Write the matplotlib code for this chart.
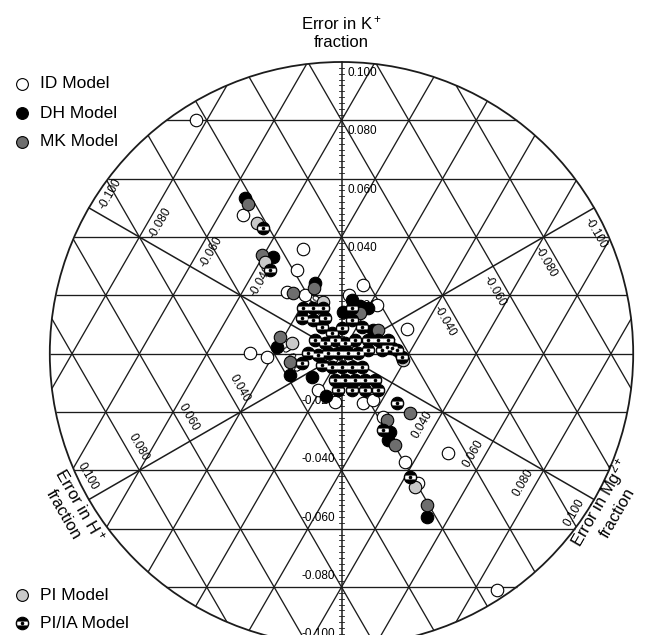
import numpy as np
import matplotlib
matplotlib.use("Agg")
import matplotlib.pyplot as plt
from matplotlib.patches import Circle
from matplotlib.path import Path

plt.rcParams['font.family'] = ['Liberation Sans', 'DejaVu Sans']
plt.rcParams['mathtext.fontset'] = 'custom'
plt.rcParams['mathtext.rm'] = 'Liberation Sans'
plt.rcParams['mathtext.it'] = 'Liberation Sans'

# Prediction errors (model - measured) in equivalent fractions.
# Each point: error in K+ and error in Mg2+; the H+ error closes the sum to zero.
id_dk = [0.0801, 0.0475, 0.0359, 0.0287, 0.0212, 0.0201, 0.0236, 0.0201, 0.0167, 0.0085,
         0.0002, -0.0011, -0.0124, -0.0166, -0.0169, -0.0159, -0.0217, -0.0371, -0.0443,
         -0.0340, -0.0810]
id_dmg = [-0.0833, -0.0530, -0.0293, -0.0275, -0.0268, -0.0209, -0.0054, -0.0079, 0.0022, 0.0152,
          -0.0273, -0.0215, -0.0008, 0.0064, 0.0149, 0.0173, 0.0231, 0.0375, 0.0449,
          0.0486, 0.0867]

dh_dk = [0.0534, 0.0331, 0.0242, 0.0164, 0.0157, 0.0143, 0.0081, 0.0023, -0.0073, -0.0080,
         -0.0296, -0.0560, -0.0268, -0.0145, 0.0184]
dh_dmg = [-0.0554, -0.0369, -0.0200, -0.0027, 0.0001, -0.0067, 0.0053, -0.0203, -0.0116, -0.0048,
          0.0286, 0.0534, 0.0278, 0.0027, -0.0061]

mk_dk = [0.0513, 0.0338, 0.0208, 0.0225, 0.0057, 0.0081, -0.0203, -0.0227, -0.0313, -0.0519,
         0.0140, -0.0028]
mk_dmg = [-0.0535, -0.0405, -0.0248, -0.0195, -0.0212, 0.0067, 0.0305, 0.0249, 0.0315, 0.0513,
          -0.0015, -0.0139]

pi_dk = [0.0448, 0.0314, -0.0022, -0.0457, 0.0037, 0.0177]
pi_dmg = [-0.0475, -0.0384, 0.0194, 0.0446, -0.0165, -0.0144]

pia_dk = [0.0431, 0.0287, 0.0157, 0.0157, 0.0157, 0.0157, 0.0122, 0.0116, 0.0122, 0.0092,
          0.0071, 0.0088, 0.0116, 0.0092, 0.0047, 0.0037, 0.0047, 0.0037, 0.0047, 0.0047,
          0.0047, 0.0047, 0.0002, -0.0004, 0.0002, 0.0002, 0.0002, 0.0002, 0.0013, 0.0013,
          0.0020, -0.0011, -0.0032, -0.0039, -0.0046, -0.0046, -0.0046, -0.0046, -0.0090, -0.0090,
          -0.0090, -0.0090, -0.0090, -0.0124, -0.0124, -0.0124, -0.0124, -0.0169, -0.0262, -0.0423,
          0.0023, 0.0013]
pia_dmg = [-0.0448, -0.0355, -0.0192, -0.0163, -0.0133, -0.0047, -0.0178, -0.0143, -0.0110, -0.0104,
           -0.0063, -0.0043, -0.0027, 0.0015, -0.0102, -0.0067, -0.0042, -0.0008, 0.0017, 0.0056,
           0.0085, 0.0115, -0.0100, -0.0068, -0.0040, -0.0010, 0.0019, 0.0049, 0.0073, 0.0114,
           0.0140, 0.0186, -0.0101, -0.0039, -0.0005, 0.0024, 0.0054, 0.0084, 0.0026, 0.0055,
           0.0085, 0.0115, 0.0144, 0.0052, 0.0093, 0.0132, 0.0170, 0.0250, 0.0254, 0.0414,
           0.0124, 0.0159]

tick_values = [0.02, 0.04, 0.06, 0.08, 0.10, -0.02, -0.04, -0.06, -0.08, -0.10]
model_names = ['ID Model', 'DH Model', 'MK Model', 'PI Model', 'PI/IA Model']


def to_xy(dk, dmg):
    """Place (dK, dMg) on the plane: K axis up, Mg axis at -30 deg, H axis at 210 deg."""
    dk = np.asarray(dk, float)
    dmg = np.asarray(dmg, float)
    return (2 * dmg + dk) / np.sqrt(3), dk


W, H = 652, 635
S = 2917.0            # pixels per unit error
CX, CY = 341.5, 353.7  # centre of the diagram in pixels
R = 0.100
LINE = '#1c1c1c'

fig = plt.figure(figsize=(W / 100, H / 100), dpi=100)
ax = fig.add_axes([0, 0, 1, 1])
ax.set_xlim(-CX / S, (W - CX) / S)
ax.set_ylim(-(H - CY) / S, CY / S)
ax.set_aspect('equal')
ax.axis('off')

# triangular grid clipped to the circle
normals = [np.array([0.0, 1.0]),
           np.array([np.sqrt(3) / 2, -0.5]),
           np.array([-np.sqrt(3) / 2, -0.5])]
for n in normals:
    t = np.array([-n[1], n[0]])
    for j in range(-4, 5):
        c = 0.02 * j
        half = np.sqrt(R ** 2 - c ** 2)
        p0 = c * n
        a, b = p0 - half * t, p0 + half * t
        ax.plot([a[0], b[0]], [a[1], b[1]], color=LINE, lw=0.95, zorder=1,
                solid_capstyle='butt')

# outer circle
ax.add_patch(Circle((0, 0), R, fill=False, ec=LINE, lw=1.3, zorder=2))

# the three error axes (diameters)
for ang in (90, 30, 150):
    d = np.array([np.cos(np.radians(ang)), np.sin(np.radians(ang))])
    ax.plot([-R * d[0], R * d[0]], [-R * d[1], R * d[1]], color=LINE, lw=1.1, zorder=2)

# minor ticks along the K axis
for v in np.arange(-0.098, 0.0981, 0.002):
    ax.plot([-0.0008, 0.0008], [v, v], color=LINE, lw=0.6, zorder=2)

# tick labels along each axis
DELTA = 11 / S
EPS = 6 / S
for ang in (90, 210, 330):
    a = np.array([np.cos(np.radians(ang)), np.sin(np.radians(ang))])
    p = np.array([a[1], -a[0]])
    for v in tick_values:
        s = np.sign(v)
        pos = v * a - s * a * DELTA + s * p * EPS
        d = s * p
        phi = np.degrees(np.arctan2(d[1], d[0]))
        ha = 'left'
        if phi > 90.5 or phi < -90.5:
            phi = phi - 180 if phi > 0 else phi + 180
            ha = 'right'
        ax.text(pos[0], pos[1], f'{v:.3f}', rotation=phi, rotation_mode='anchor',
                ha=ha, va='center', fontsize=8.5, zorder=3)

# axis titles
ax.text(0, (CY - 32) / S, 'Error in K$^+$\nfraction', ha='center', va='center',
        fontsize=12, linespacing=1.2, zorder=3)
rt = 0.1065
ax.text(rt * np.cos(np.radians(210)), rt * np.sin(np.radians(210)),
        'Error in H$^+$\nfraction', rotation=-60, rotation_mode='anchor',
        ha='center', va='center', fontsize=12, linespacing=1.2, zorder=3)
ax.text(rt * np.cos(np.radians(330)) - 0.0012, rt * np.sin(np.radians(330)) + 0.0008,
        'Error in Mg$^{2+}$\nfraction', rotation=60, rotation_mode='anchor',
        ha='center', va='center', fontsize=12, linespacing=1.2, zorder=3)

# marker pieces for the PI/IA model: black disc, white equatorial band, black centre dot
h = 0.36
th0 = np.arcsin(h)
arc_r = np.linspace(-th0, th0, 12)
arc_l = np.linspace(np.pi - th0, np.pi + th0, 12)
band_verts = np.vstack([np.column_stack([np.cos(arc_r), np.sin(arc_r)]),
                        np.column_stack([np.cos(arc_l), np.sin(arc_l)]),
                        [[np.cos(-th0), np.sin(-th0)]]])
band_path = Path(band_verts, closed=True)

MS = 9.0
EW = 0.8


def draw_pia(axis, xs, ys, transform=None, zbase=10):
    kw = {} if transform is None else {'transform': transform, 'clip_on': False}
    axis.plot(xs, ys, ls='none', marker='o', ms=MS, mfc='black', mec='black', mew=EW,
              zorder=zbase, **kw)
    axis.plot(xs, ys, ls='none', marker=band_path, ms=MS - 1.3, mfc='white', mec='none',
              zorder=zbase + 0.1, **kw)
    axis.plot(xs, ys, ls='none', marker='o', ms=2.6, mfc='black', mec='none',
              zorder=zbase + 0.2, **kw)


styles = [('white', 5), ('black', 6), ('#6e6e6e', 7), ('#c9c9c9', 8)]
series = [(id_dk, id_dmg), (dh_dk, dh_dmg), (mk_dk, mk_dmg), (pi_dk, pi_dmg)]
for (dk, dmg), (fc, z) in zip(series, styles):
    x, y = to_xy(dk, dmg)
    ax.plot(x, y, ls='none', marker='o', ms=MS, mfc=fc, mec='black', mew=EW, zorder=z)

px, py = to_xy(pia_dk, pia_dmg)
draw_pia(ax, px, py)

# legend entries
leg_rows = [(84, 'white'), (113, 'black'), (142, '#6e6e6e'), (595, '#c9c9c9')]
for (ypix, fc), name in zip(leg_rows, model_names[:4]):
    fy = 1 - ypix / H
    ax.plot([22 / W], [fy], ls='none', marker='o', ms=MS - 0.5, mfc=fc, mec='black', mew=EW,
            transform=fig.transFigure, clip_on=False, zorder=20)
    fig.text(40 / W, fy, name, ha='left', va='center', fontsize=12.5)
fy = 1 - 623 / H
draw_pia(ax, [22 / W], [fy], transform=fig.transFigure, zbase=20)
fig.text(40 / W, fy, model_names[4], ha='left', va='center', fontsize=12.5)

fig.savefig('out.png', dpi=100, facecolor='white')
